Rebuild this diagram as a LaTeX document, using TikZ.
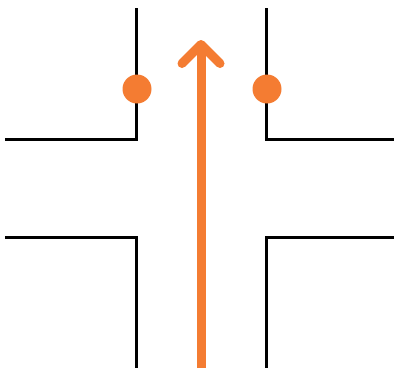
\documentclass[tikz,border=0pt]{standalone}
\usepackage{tikz}
\usepackage{xcolor}
\usetikzlibrary{arrows.meta,positioning,calc}
\definecolor{SignalOrange}{RGB}{244,124,50}

\begin{document}
\begin{tikzpicture}[x=1pt, y=-1pt, wall/.style={draw=black, line width=3pt},
  lamp/.style={circle, fill=SignalOrange, inner sep=0pt, minimum size=29pt}]
\useasboundingbox (0,0) rectangle (394,370);
\draw[wall] (136,8) -- (136,139) -- (5,139);
\draw[wall] (266,8) -- (266,139) -- (394,139);
\draw[wall] (5,237) -- (136,237) -- (136,368);
\draw[wall] (394,237) -- (266,237) -- (266,368);
\node[lamp] (lampL) at (137,89) {};
\node[lamp] (lampR) at (267,89) {};
\coordinate (start) at (201,368);
\coordinate (goal) at (201,40);
\draw[-{Straight Barb[length=19pt, width=38pt, round]}, draw=SignalOrange, line width=9pt] (start) -- (goal);
\end{tikzpicture}
\end{document}
